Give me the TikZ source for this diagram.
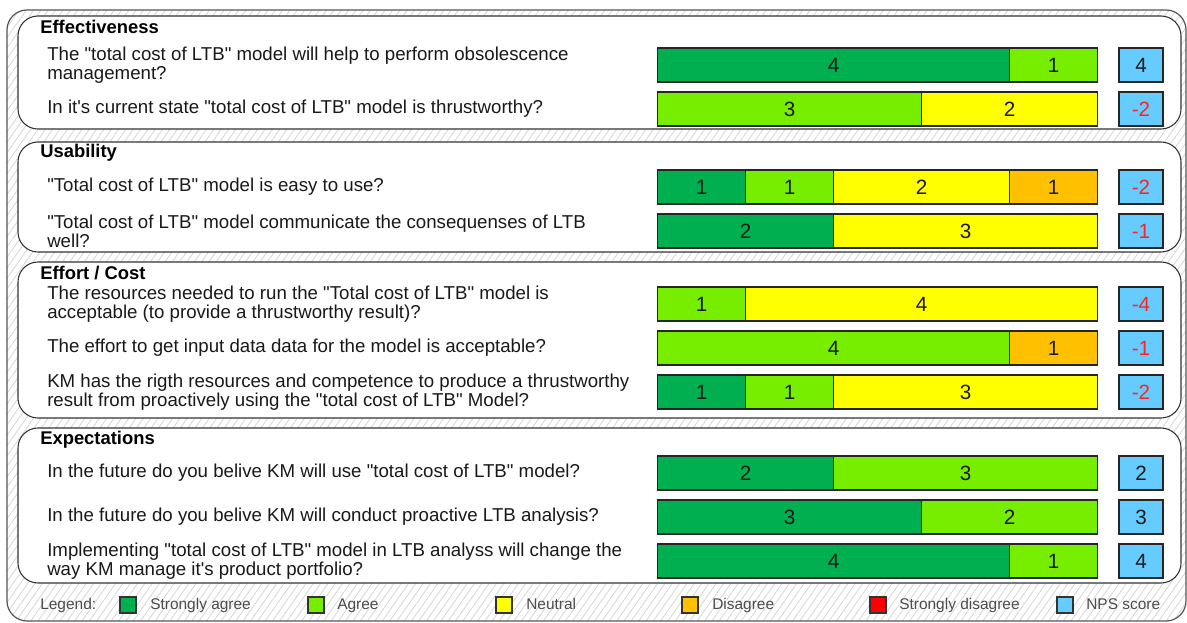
\documentclass[tikz,border=0pt]{standalone}
\usepackage{fontspec}
\setmainfont{Liberation Sans}[Ligatures=TeXOff]
\usetikzlibrary{patterns.meta}
\definecolor{sagree}{HTML}{00B050}
\definecolor{agree}{HTML}{77EE00}
\definecolor{neutral}{HTML}{FFFF00}
\definecolor{disagree}{HTML}{FFC000}
\definecolor{sdisagree}{HTML}{FF0000}
\definecolor{npsblue}{HTML}{66CCFF}
\definecolor{negred}{HTML}{FF2222}
\definecolor{framegray}{HTML}{555555}
\newcommand\bodyfont{\fontsize{14}{14}\selectfont}
\newcommand\digitfont{\fontsize{15.5}{16}\selectfont}
\newcommand\seg[5]{\node[seg,fill=#5,minimum width={#4*66pt}] (#1) at (#2,#3) {#4};}
\tikzset{
  seg/.style={draw=black!85, line width=0.8pt, minimum height=25.5pt, inner sep=0pt, anchor=west, font=\digitfont, text=black!90},
  nps/.style={draw=black!85, fill=npsblue, line width=0.8pt, minimum width=33pt, minimum height=25.5pt, inner sep=0pt, font=\digitfont, text=black!90},
  question/.style={anchor=west, inner sep=0pt, align=left, font=\bodyfont, text=black!90},
  sectitle/.style={anchor=west, inner sep=0pt, font=\bfseries\fontsize{13.8}{14}\selectfont},
  section/.style={draw=black!80, fill=white, line width=0.8pt, rounded corners=15pt},
  legbox/.style={draw=black!80, line width=0.8pt, minimum width=12pt, minimum height=12pt, inner sep=0pt},
  legtext/.style={anchor=west, inner sep=0pt, text height=8.5pt, text depth=2.5pt, text=black!70, font=\fontsize{11.6}{13}\selectfont},
}
\begin{document}
\begin{tikzpicture}[x=0.75pt,y=-0.75pt]
\useasboundingbox (0,0) rectangle (1187,623);
% outer hatched frame
\fill[white, rounded corners=15pt] (7,10) rectangle (1186,621);
\path[rounded corners=15pt, pattern={Lines[angle=55,distance=4.5pt,line width=0.6pt]}, pattern color=black!16] (7,10) rectangle (1186,621);
\draw[framegray, line width=0.9pt, rounded corners=15pt] (7,10) rectangle (1186,621);
% sections
\draw[section] (18,16) rectangle (1181,129);
\draw[section] (18,142) rectangle (1181,252);
\draw[section] (18,262) rectangle (1181,418);
\draw[section] (18,428) rectangle (1181,583);
% titles
\node[sectitle] (t1) at (40,27) {Effectiveness};
\node[sectitle] (t2) at (40,153) {Usability};
\node[sectitle] (t3) at (40,273) {Effort / Cost};
\node[sectitle] (t4) at (40,440) {Expectations};
% questions
\node[question] (q1) at (47,65) {The "total cost of LTB" model will help to perform obsolescence\\management?};
\node[question] (q2) at (47,109) {In it's current state "total cost of LTB" model is thrustworthy?};
\node[question] (q3) at (47,187) {"Total cost of LTB" model is easy to use?};
\node[question] (q4) at (47,231) {"Total cost of LTB" model communicate the consequenses of LTB\\well?};
\node[question] (q5) at (47,304) {The resources needed to run the "Total cost of LTB" model is\\acceptable (to provide a thrustworthy result)?};
\node[question] (q6) at (47,348) {The effort to get input data data for the model is acceptable?};
\node[question] (q7) at (47,392) {KM has the rigth resources and competence to produce a thrustworthy\\result from proactively using the "total cost of LTB" Model?};
\node[question] (q8) at (47,473) {In the future do you belive KM will use "total cost of LTB" model?};
\node[question] (q9) at (47,517) {In the future do you belive KM will conduct proactive LTB analysis?};
\node[question] (q10) at (47,561) {Implementing "total cost of LTB" model in LTB analyss will change the\\way KM manage it's product portfolio?};
% bars
\seg{b1a}{657}{65}{4}{sagree}\seg{b1b}{1009}{65}{1}{agree}
\seg{b2a}{657}{109}{3}{agree}\seg{b2b}{921}{109}{2}{neutral}
\seg{b3a}{657}{187}{1}{sagree}\seg{b3b}{745}{187}{1}{agree}\seg{b3c}{833}{187}{2}{neutral}\seg{b3d}{1009}{187}{1}{disagree}
\seg{b4a}{657}{231}{2}{sagree}\seg{b4b}{833}{231}{3}{neutral}
\seg{b5a}{657}{304}{1}{agree}\seg{b5b}{745}{304}{4}{neutral}
\seg{b6a}{657}{348}{4}{agree}\seg{b6b}{1009}{348}{1}{disagree}
\seg{b7a}{657}{392}{1}{sagree}\seg{b7b}{745}{392}{1}{agree}\seg{b7c}{833}{392}{3}{neutral}
\seg{b8a}{657}{473}{2}{sagree}\seg{b8b}{833}{473}{3}{agree}
\seg{b9a}{657}{517}{3}{sagree}\seg{b9b}{921}{517}{2}{agree}
\seg{b10a}{657}{561}{4}{sagree}\seg{b10b}{1009}{561}{1}{agree}
% NPS
\node[nps] (n1) at (1141,65) {4};
\node[nps, text=negred] (n2) at (1141,109) {-2};
\node[nps, text=negred] (n3) at (1141,187) {-2};
\node[nps, text=negred] (n4) at (1141,231) {-1};
\node[nps, text=negred] (n5) at (1141,304) {-4};
\node[nps, text=negred] (n6) at (1141,348) {-1};
\node[nps, text=negred] (n7) at (1141,392) {-2};
\node[nps] (n8) at (1141,473) {2};
\node[nps] (n9) at (1141,517) {3};
\node[nps] (n10) at (1141,561) {4};
% legend
\node[legtext] (lg) at (40,605) {Legend:};
\node[legbox, fill=sagree] (l1) at (128,605) {};
\node[legtext] (l1t) at (150,605) {Strongly agree};
\node[legbox, fill=agree] (l2) at (316,605) {};
\node[legtext] (l2t) at (337,605) {Agree};
\node[legbox, fill=neutral] (l3) at (504,605) {};
\node[legtext] (l3t) at (526,605) {Neutral};
\node[legbox, fill=disagree] (l4) at (690,605) {};
\node[legtext] (l4t) at (712,605) {Disagree};
\node[legbox, fill=sdisagree] (l5) at (878,605) {};
\node[legtext] (l5t) at (899,605) {Strongly disagree};
\node[legbox, fill=npsblue] (l6) at (1065,605) {};
\node[legtext] (l6t) at (1086,605) {NPS score};
\end{tikzpicture}
\end{document}
